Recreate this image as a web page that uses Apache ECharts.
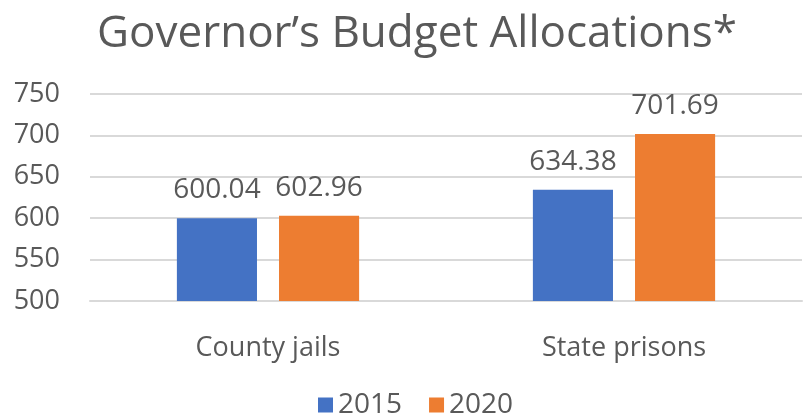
<!DOCTYPE html>
<html>
<head>
<meta charset="utf-8">
<script src="https://cdn.jsdelivr.net/npm/echarts@6/dist/echarts.min.js"></script>
<style>
  html, body { margin: 0; padding: 0; background: #fff; }
  #chart { width: 803px; height: 417px; }
</style>
</head>
<body>
<div id="chart"></div>
<script>
var categories = ['County jails', 'State prisons']
var values2015 = [600.04, 634.38]
var values2020 = [602.96, 701.69]
var seriesNames = ['2015', '2020']

var textColor = '#595959'
var font = '"Open Sans", sans-serif'

var myChart = echarts.init(document.getElementById('chart'))

function barSeries(name, data, color) {
  return {
    name: name,
    type: 'bar',
    data: data,
    barWidth: '22.5%',
    barGap: '27.5%',
    itemStyle: { color: color },
    label: {
      show: true,
      position: 'top',
      distance: 14,
      color: textColor,
      fontFamily: font,
      fontSize: 28,
      formatter: function (p) { return p.value.toFixed(2) }
    }
  }
}

myChart.setOption({
  animation: false,
  title: {
    text: 'Governor’s Budget Allocations*',
    left: 412,
    textAlign: 'center',
    top: 7,
    textStyle: { color: textColor, fontFamily: font, fontSize: 44, fontWeight: 'normal' }
  },
  legend: {
    data: seriesNames,
    top: 391,
    left: 318,
    padding: 0,
    itemWidth: 15,
    itemHeight: 15,
    itemGap: 27,
    icon: 'rect',
    textStyle: { color: textColor, fontFamily: font, fontSize: 28 }
  },
  grid: { left: 90, right: 1, top: 94, bottom: 116 },
  xAxis: {
    type: 'category',
    data: categories,
    axisLine: { show: true, lineStyle: { color: '#d9d9d9', width: 2 } },
    axisTick: { show: false },
    axisLabel: { color: textColor, fontFamily: font, fontSize: 27, margin: 34 }
  },
  yAxis: {
    type: 'value',
    min: 500,
    max: 750,
    interval: 50,
    axisLine: { show: false },
    axisTick: { show: false },
    splitLine: { lineStyle: { color: '#d9d9d9', width: 2 } },
    axisLabel: { color: textColor, fontFamily: font, fontSize: 27, margin: 30 }
  },
  series: [
    barSeries(seriesNames[0], values2015, '#4472c4'),
    barSeries(seriesNames[1], values2020, '#ed7d31')
  ]
})
</script>
</body>
</html>
